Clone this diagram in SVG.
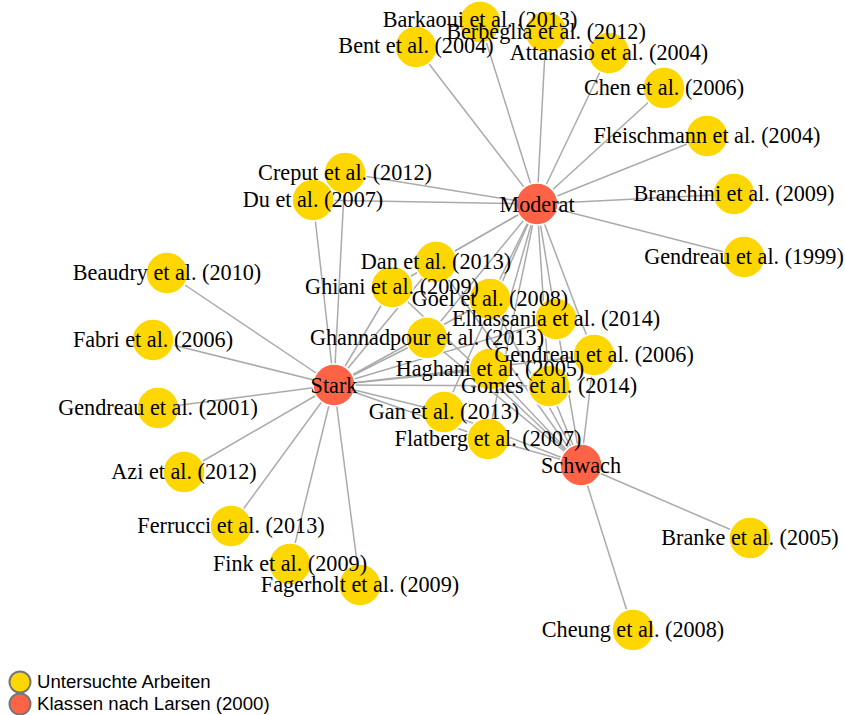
<svg xmlns="http://www.w3.org/2000/svg" width="845" height="715" viewBox="0 0 845 715">
  <style>
    .link { stroke: #aaa; stroke-width: 1.5; fill: none; }
    .paper { fill: #ffd700; stroke: #fff; stroke-width: 1.5; }
    .cls { fill: #ff6347; stroke: #fff; stroke-width: 1.5; }
    .label { font-family: "Liberation Serif", "Times New Roman", serif; font-size: 22.2px; fill: #000; text-anchor: middle; }
    .legend-dot { stroke: #777; stroke-width: 2; }
    .legend-text { font-family: "Liberation Sans", Arial, sans-serif; font-size: 18.6px; fill: #000; }
  </style>
  <rect width="845" height="715" fill="#fff"/>

  <!-- connectors: each paper to the dynamism classes it belongs to -->
  <g id="links">
    <!-- Moderat -->
    <line class="link" x1="537" y1="204" x2="480" y2="22"/>
    <line class="link" x1="537" y1="204" x2="416" y2="47"/>
    <line class="link" x1="537" y1="204" x2="546" y2="32"/>
    <line class="link" x1="537" y1="204" x2="609" y2="53"/>
    <line class="link" x1="537" y1="204" x2="664" y2="88"/>
    <line class="link" x1="537" y1="204" x2="707" y2="136"/>
    <line class="link" x1="537" y1="204" x2="734" y2="194"/>
    <line class="link" x1="537" y1="204" x2="744" y2="257"/>
    <line class="link" x1="537" y1="204" x2="345" y2="173"/>
    <line class="link" x1="537" y1="204" x2="313" y2="200"/>
    <line class="link" x1="537" y1="204" x2="436" y2="262"/>
    <line class="link" x1="537" y1="204" x2="392" y2="287"/>
    <line class="link" x1="537" y1="204" x2="490" y2="299"/>
    <line class="link" x1="537" y1="204" x2="556" y2="319"/>
    <line class="link" x1="537" y1="204" x2="427" y2="338"/>
    <line class="link" x1="537" y1="204" x2="490" y2="369"/>
    <line class="link" x1="537" y1="204" x2="594" y2="355"/>
    <line class="link" x1="537" y1="204" x2="549" y2="386"/>
    <line class="link" x1="537" y1="204" x2="444" y2="412"/>
    <line class="link" x1="537" y1="204" x2="488" y2="439"/>
    <!-- Stark -->
    <line class="link" x1="334" y1="385" x2="167" y2="273"/>
    <line class="link" x1="334" y1="385" x2="153" y2="340"/>
    <line class="link" x1="334" y1="385" x2="158" y2="408"/>
    <line class="link" x1="334" y1="385" x2="184" y2="472"/>
    <line class="link" x1="334" y1="385" x2="231" y2="526"/>
    <line class="link" x1="334" y1="385" x2="290" y2="564"/>
    <line class="link" x1="334" y1="385" x2="360" y2="585"/>
    <line class="link" x1="334" y1="385" x2="345" y2="173"/>
    <line class="link" x1="334" y1="385" x2="313" y2="200"/>
    <line class="link" x1="334" y1="385" x2="436" y2="262"/>
    <line class="link" x1="334" y1="385" x2="392" y2="287"/>
    <line class="link" x1="334" y1="385" x2="490" y2="299"/>
    <line class="link" x1="334" y1="385" x2="556" y2="319"/>
    <line class="link" x1="334" y1="385" x2="427" y2="338"/>
    <line class="link" x1="334" y1="385" x2="490" y2="369"/>
    <line class="link" x1="334" y1="385" x2="594" y2="355"/>
    <line class="link" x1="334" y1="385" x2="549" y2="386"/>
    <line class="link" x1="334" y1="385" x2="444" y2="412"/>
    <line class="link" x1="334" y1="385" x2="488" y2="439"/>
    <!-- Schwach -->
    <line class="link" x1="581" y1="465" x2="750" y2="538"/>
    <line class="link" x1="581" y1="465" x2="633" y2="630"/>
    <line class="link" x1="581" y1="465" x2="436" y2="262"/>
    <line class="link" x1="581" y1="465" x2="392" y2="287"/>
    <line class="link" x1="581" y1="465" x2="490" y2="299"/>
    <line class="link" x1="581" y1="465" x2="556" y2="319"/>
    <line class="link" x1="581" y1="465" x2="427" y2="338"/>
    <line class="link" x1="581" y1="465" x2="490" y2="369"/>
    <line class="link" x1="581" y1="465" x2="594" y2="355"/>
    <line class="link" x1="581" y1="465" x2="549" y2="386"/>
    <line class="link" x1="581" y1="465" x2="444" y2="412"/>
    <line class="link" x1="581" y1="465" x2="488" y2="439"/>
  </g>

  <!-- nodes -->
  <g id="nodes">
    <g id="barkaoui"><circle class="paper" cx="480" cy="22" r="21"/></g>
    <g id="bent"><circle class="paper" cx="416" cy="47" r="21"/></g>
    <g id="berbeglia"><circle class="paper" cx="546" cy="32" r="21"/></g>
    <g id="attanasio"><circle class="paper" cx="609" cy="53" r="21"/></g>
    <g id="chen"><circle class="paper" cx="664" cy="88" r="21"/></g>
    <g id="fleischmann"><circle class="paper" cx="707" cy="136" r="21"/></g>
    <g id="branchini"><circle class="paper" cx="734" cy="194" r="21"/></g>
    <g id="gendreau1999"><circle class="paper" cx="744" cy="257" r="21"/></g>
    <g id="creput"><circle class="paper" cx="345" cy="173" r="21"/></g>
    <g id="du"><circle class="paper" cx="313" cy="200" r="21"/></g>
    <g id="beaudry"><circle class="paper" cx="167" cy="273" r="21"/></g>
    <g id="fabri"><circle class="paper" cx="153" cy="340" r="21"/></g>
    <g id="gendreau2001"><circle class="paper" cx="158" cy="408" r="21"/></g>
    <g id="azi"><circle class="paper" cx="184" cy="472" r="21"/></g>
    <g id="ferrucci"><circle class="paper" cx="231" cy="526" r="21"/></g>
    <g id="fink"><circle class="paper" cx="290" cy="564" r="21"/></g>
    <g id="fagerholt"><circle class="paper" cx="360" cy="585" r="21"/></g>
    <g id="branke"><circle class="paper" cx="750" cy="538" r="21"/></g>
    <g id="cheung"><circle class="paper" cx="633" cy="630" r="21"/></g>
    <g id="dan"><circle class="paper" cx="436" cy="262" r="21"/></g>
    <g id="ghiani"><circle class="paper" cx="392" cy="287" r="21"/></g>
    <g id="goel"><circle class="paper" cx="490" cy="299" r="21"/></g>
    <g id="elhassania"><circle class="paper" cx="556" cy="319" r="21"/></g>
    <g id="ghannadpour"><circle class="paper" cx="427" cy="338" r="21"/></g>
    <g id="haghani"><circle class="paper" cx="490" cy="369" r="21"/></g>
    <g id="gendreau2006"><circle class="paper" cx="594" cy="355" r="21"/></g>
    <g id="gomes"><circle class="paper" cx="549" cy="386" r="21"/></g>
    <g id="gan"><circle class="paper" cx="444" cy="412" r="21"/></g>
    <g id="flatberg"><circle class="paper" cx="488" cy="439" r="21"/></g>
    <g id="moderat"><circle class="cls" cx="537" cy="204" r="21"/></g>
    <g id="stark"><circle class="cls" cx="334" cy="385" r="21"/></g>
    <g id="schwach"><circle class="cls" cx="581" cy="465" r="21"/></g>
  </g>

  <!-- labels sit above every circle -->
  <g id="labels" class="label">
    <text x="480" y="27">Barkaoui et al. (2013)</text>
    <text x="416" y="53">Bent et al. (2004)</text>
    <text x="546" y="39">Berbeglia et al. (2012)</text>
    <text x="609" y="60">Attanasio et al. (2004)</text>
    <text x="664" y="95">Chen et al. (2006)</text>
    <text x="707" y="143">Fleischmann et al. (2004)</text>
    <text x="734" y="201">Branchini et al. (2009)</text>
    <text x="744" y="264">Gendreau et al. (1999)</text>
    <text x="345" y="180">Creput et al. (2012)</text>
    <text x="313" y="207">Du et al. (2007)</text>
    <text x="167" y="280">Beaudry et al. (2010)</text>
    <text x="153" y="347">Fabri et al. (2006)</text>
    <text x="158" y="415">Gendreau et al. (2001)</text>
    <text x="184" y="479">Azi et al. (2012)</text>
    <text x="231" y="533">Ferrucci et al. (2013)</text>
    <text x="290" y="571">Fink et al. (2009)</text>
    <text x="360" y="592">Fagerholt et al. (2009)</text>
    <text x="750" y="545">Branke et al. (2005)</text>
    <text x="633" y="637">Cheung et al. (2008)</text>
    <text x="436" y="269">Dan et al. (2013)</text>
    <text x="392" y="294">Ghiani et al. (2009)</text>
    <text x="490" y="306">Goel et al. (2008)</text>
    <text x="556" y="326">Elhassania et al. (2014)</text>
    <text x="427" y="345">Ghannadpour et al. (2013)</text>
    <text x="490" y="376">Haghani et al. (2005)</text>
    <text x="594" y="362">Gendreau et al. (2006)</text>
    <text x="549" y="393">Gomes et al. (2014)</text>
    <text x="444" y="419">Gan et al. (2013)</text>
    <text x="488" y="446">Flatberg et al. (2007)</text>
    <text x="537" y="212">Moderat</text>
    <text x="334" y="393">Stark</text>
    <text x="581" y="473">Schwach</text>
  </g>

  <!-- legend -->
  <g id="legend">
    <circle class="legend-dot" cx="20" cy="682" r="10.5" fill="#ffd700"/>
    <text class="legend-text" x="37" y="688">Untersuchte Arbeiten</text>
    <circle class="legend-dot" cx="20" cy="704" r="10.5" fill="#ff6347"/>
    <text class="legend-text" x="37" y="710">Klassen nach Larsen (2000)</text>
  </g>
</svg>
